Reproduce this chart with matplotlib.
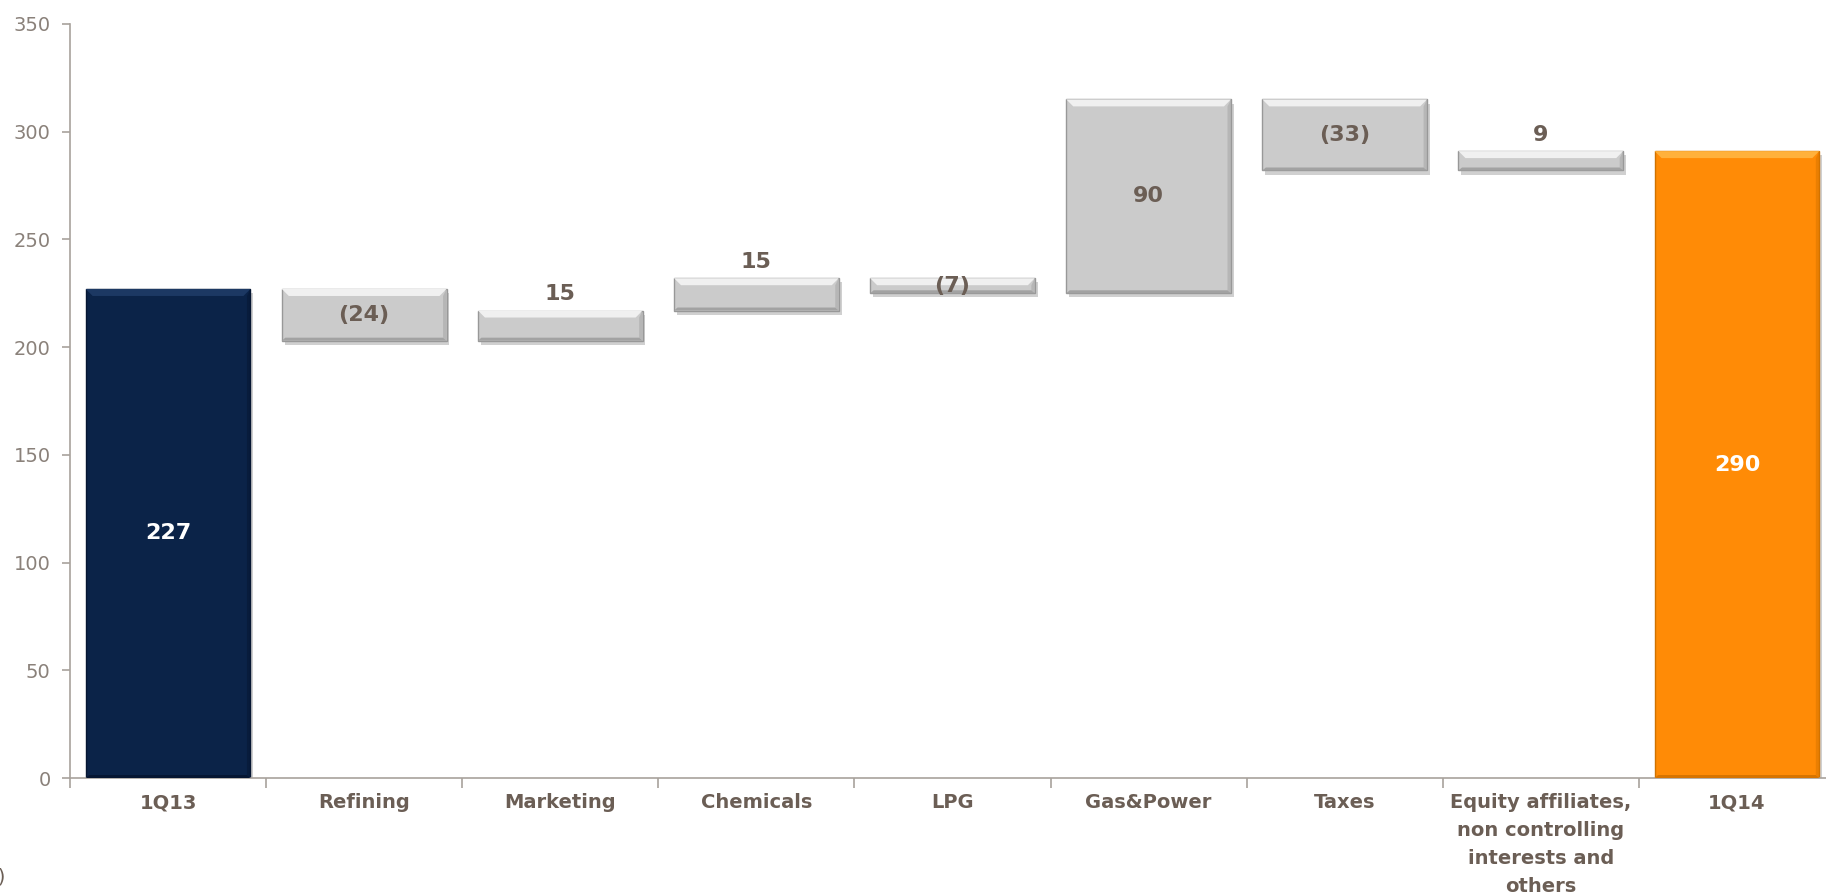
import numpy as np
import matplotlib.pyplot as plt
from matplotlib.patches import Polygon
import matplotlib.patheffects as pe

categories = ["1Q13", "Refining", "Marketing", "Chemicals", "LPG", "Gas&Power",
              "Taxes", "Equity affiliates,\nnon controlling\ninterests and\nothers", "1Q14"]
start_value = 227
end_value = 290
deltas = [-24, 14, 15, -7, 90, -33, 9]
delta_labels = ["(24)", "15", "15", "(7)", "90", "(33)", "9"]

navy = "#0b2348"
orange = "#ff8b06"
grey = "#cbcbcb"
txt = "#6b5e55"
tick_txt = "#8a817a"
spine = "#a8a29c"

W, H = 1826, 896
fig = plt.figure(figsize=(W / 100, H / 100), dpi=100)
ax_l, ax_b = 70 / W, (H - 778) / H
ax_w, ax_h = (1835 - 70) / W, (778 - 24) / H
ax = fig.add_axes([ax_l, ax_b, ax_w, ax_h])
ax.set_xlim(-0.5, len(categories) - 0.5)
ax.set_ylim(0, 350)

# pixel -> data conversion for bevel size
px_x = len(categories) / (1835 - 70)
px_y = 350 / (778 - 24)
bw = 0.84
shadow = [pe.SimplePatchShadow(offset=(2, -3), shadow_rgbFace="#666666", alpha=0.3), pe.Normal()]


def bevel_bar(x, bottom, top, color, light, dark, edge):
    lo, hi = min(bottom, top), max(bottom, top)
    x0, x1 = x - bw / 2, x + bw / 2
    r = ax.bar(x, hi - lo, bw, bottom=lo, color=color, edgecolor=edge, linewidth=1.0, zorder=2)
    r[0].set_path_effects(shadow)
    bx = 7 * px_x
    by = min(7 * px_y, (hi - lo) / 2)
    by2 = min(3 * px_y, (hi - lo) / 3)
    # top highlight
    ax.add_patch(Polygon([[x0, hi], [x1, hi], [x1 - bx, hi - by], [x0 + bx, hi - by]],
                         closed=True, color=light, lw=0, zorder=3))
    # bottom shade
    ax.add_patch(Polygon([[x0, lo], [x1, lo], [x1 - bx / 2, lo + by2], [x0 + bx / 2, lo + by2]],
                         closed=True, color=dark, lw=0, zorder=3))
    # right side
    ax.add_patch(Polygon([[x1, lo], [x1, hi], [x1 - bx / 2, hi - by], [x1 - bx / 2, lo + by2]],
                         closed=True, color=dark, alpha=0.5, lw=0, zorder=3))


# first total
bevel_bar(0, 0, start_value, navy, "#1c3863", "#061632", "#061632")
ax.text(0, start_value / 2, str(start_value), ha="center", va="center", color="white",
        fontsize=16, fontweight="bold", zorder=5)

level = start_value
for i, (d, lab) in enumerate(zip(deltas, delta_labels), start=1):
    new = level + d
    bevel_bar(i, level, new, grey, "#f0f0f0", "#a2a2a2", "#989898")
    lo, hi = min(level, new), max(level, new)
    if d < 0 or abs(d) > 20:
        ax.text(i, (lo + hi) / 2, lab, ha="center", va="center", color=txt,
                fontsize=16, fontweight="bold", zorder=5)
    else:
        ax.text(i, hi + 3, lab, ha="center", va="bottom", color=txt,
                fontsize=16, fontweight="bold", zorder=5)
    level = new

n = len(categories) - 1
bevel_bar(n, 0, level, orange, "#ffb13c", "#d77400", "#d07200")
ax.text(n, level / 2, str(end_value), ha="center", va="center", color="white",
        fontsize=16, fontweight="bold", zorder=5)

# axes styling
for s in ["top", "right"]:
    ax.spines[s].set_visible(False)
for s in ["left", "bottom"]:
    ax.spines[s].set_color(spine)
    ax.spines[s].set_linewidth(1.2)

ax.set_yticks(np.arange(0, 351, 50))
ax.tick_params(axis="y", colors=spine, labelcolor=tick_txt, labelsize=14, length=6, width=1.2, pad=8)

ax.set_xticks(np.arange(len(categories)))
ax.set_xticklabels(categories, color=txt, fontsize=14, fontweight="bold", linespacing=1.6)
ax.tick_params(axis="x", length=0, pad=11)
ax.set_xticks(np.arange(len(categories) + 1) - 0.5, minor=True)
ax.tick_params(axis="x", which="minor", length=7, width=1.2, colors=spine)

# cut-off unit label at lower left, as in the source
fig.text(6 / W, 10 / H, "(€m)", ha="right", va="bottom", color=txt, fontsize=14)

fig.savefig("out.png", dpi=100)
